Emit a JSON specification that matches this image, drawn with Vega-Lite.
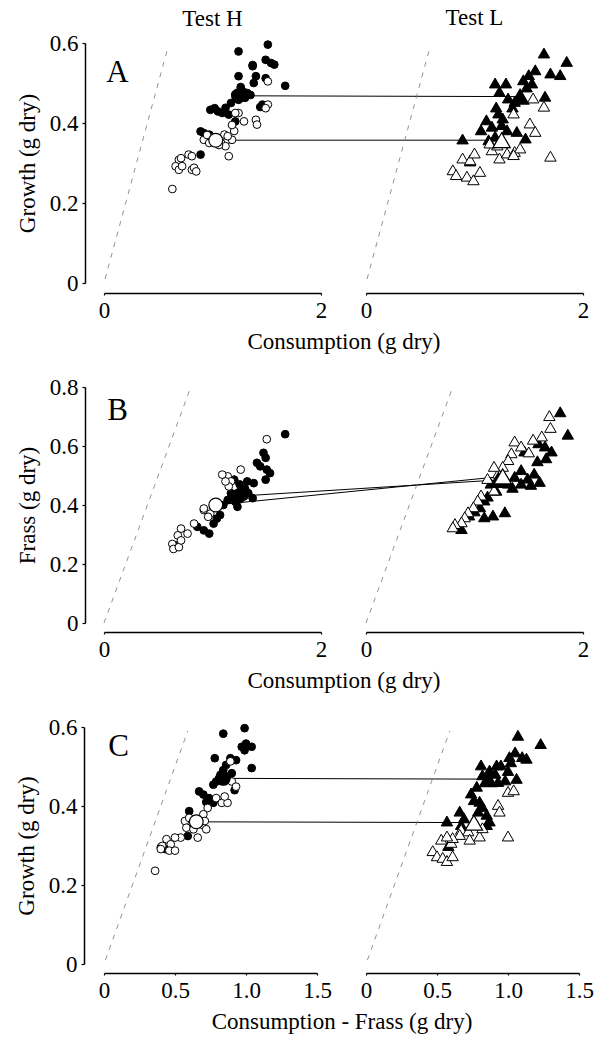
{
"$schema":"https://vega.github.io/schema/vega-lite/v6.json",
"background":"white",
"padding":{"left":15,"top":7,"right":5,"bottom":5},
"config":{
 "font":"Liberation Serif",
 "view":{"stroke":null},
 "axis":{"labelFont":"Liberation Serif","titleFont":"Liberation Serif","labelFontSize":23,"titleFontSize":23,"titleFontWeight":"normal","labelColor":"black","titleColor":"black","domainColor":"black","tickColor":"black","grid":false,"domainWidth":1.5,"tickWidth":1.2,"labelFlush":false,"labelOverlap":false},
 "title":{"font":"Liberation Serif","fontSize":23,"fontWeight":"normal","color":"black","anchor":"middle","frame":"group"}
},
"datasets":{
 "A_H":[
  {"x":1.24,"y":0.579,"g":"closed"},{"x":1.51,"y":0.596,"g":"closed"},{"x":1.49,"y":0.558,"g":"closed"},{"x":1.54,"y":0.55,"g":"closed"},{"x":1.57,"y":0.546,"g":"closed"},{"x":1.37,"y":0.542,"g":"closed"},{"x":1.24,"y":0.517,"g":"closed"},{"x":1.40,"y":0.517,"g":"closed"},{"x":1.38,"y":0.50,"g":"closed"},{"x":1.67,"y":0.493,"g":"closed"},{"x":1.21,"y":0.471,"g":"closed"},{"x":1.28,"y":0.479,"g":"closed"},{"x":1.32,"y":0.475,"g":"closed"},{"x":1.17,"y":0.45,"g":"closed"},{"x":1.24,"y":0.458,"g":"closed"},{"x":1.30,"y":0.463,"g":"closed"},{"x":1.35,"y":0.47,"g":"closed"},{"x":1.46,"y":0.446,"g":"closed"},{"x":0.98,"y":0.433,"g":"closed"},{"x":1.05,"y":0.429,"g":"closed"},{"x":1.09,"y":0.425,"g":"closed"},{"x":1.15,"y":0.421,"g":"closed"},{"x":1.02,"y":0.437,"g":"closed"},{"x":1.21,"y":0.404,"g":"closed"},{"x":0.89,"y":0.379,"g":"closed"},{"x":0.92,"y":0.375,"g":"closed"},{"x":0.97,"y":0.371,"g":"closed"},{"x":0.89,"y":0.321,"g":"closed"},{"x":1.12,"y":0.438,"g":"closed"},{"x":1.26,"y":0.49,"g":"closed"},{"x":1.44,"y":0.44,"g":"closed"},{"x":1.49,"y":0.512,"g":"closed"},{"x":1.37,"y":0.545,"g":"closed"},
  {"x":1.51,"y":0.504,"g":"open"},{"x":1.51,"y":0.446,"g":"open"},{"x":1.24,"y":0.425,"g":"open"},{"x":1.29,"y":0.404,"g":"open"},{"x":1.40,"y":0.408,"g":"open"},{"x":1.41,"y":0.396,"g":"open"},{"x":0.92,"y":0.358,"g":"open"},{"x":0.97,"y":0.35,"g":"open"},{"x":1.11,"y":0.371,"g":"open"},{"x":1.14,"y":0.358,"g":"open"},{"x":1.12,"y":0.342,"g":"open"},{"x":1.18,"y":0.358,"g":"open"},{"x":1.15,"y":0.317,"g":"open"},{"x":0.78,"y":0.321,"g":"open"},{"x":0.81,"y":0.317,"g":"open"},{"x":0.69,"y":0.308,"g":"open"},{"x":0.71,"y":0.312,"g":"open"},{"x":0.66,"y":0.292,"g":"open"},{"x":0.69,"y":0.283,"g":"open"},{"x":0.72,"y":0.292,"g":"open"},{"x":0.81,"y":0.283,"g":"open"},{"x":0.83,"y":0.288,"g":"open"},{"x":0.63,"y":0.235,"g":"open"},{"x":1.0,"y":0.365,"g":"open"},{"x":1.06,"y":0.345,"g":"open"},{"x":0.95,"y":0.37,"g":"open"},{"x":1.20,"y":0.38,"g":"open"},{"x":1.18,"y":0.395,"g":"open"},{"x":1.49,"y":0.437,"g":"open"},{"x":1.14,"y":0.367,"g":"open"},{"x":0.85,"y":0.279,"g":"open"},{"x":1.21,"y":0.425,"g":"open"}
 ],
 "A_H_mean":[{"x":1.24,"y":0.468,"g":"closed"},{"x":1.03,"y":0.357,"g":"open"}],
 "A_L":[
  {"x":1.64,"y":0.575,"g":"closed"},{"x":1.85,"y":0.554,"g":"closed"},{"x":1.70,"y":0.525,"g":"closed"},{"x":1.79,"y":0.521,"g":"closed"},{"x":1.56,"y":0.533,"g":"closed"},{"x":1.50,"y":0.521,"g":"closed"},{"x":1.45,"y":0.508,"g":"closed"},{"x":1.19,"y":0.5,"g":"closed"},{"x":1.29,"y":0.5,"g":"closed"},{"x":1.23,"y":0.479,"g":"closed"},{"x":1.31,"y":0.4625,"g":"closed"},{"x":1.37,"y":0.454,"g":"closed"},{"x":1.42,"y":0.467,"g":"closed"},{"x":1.65,"y":0.467,"g":"closed"},{"x":1.22,"y":0.425,"g":"closed"},{"x":1.26,"y":0.4125,"g":"closed"},{"x":1.11,"y":0.408,"g":"closed"},{"x":1.06,"y":0.383,"g":"closed"},{"x":1.16,"y":0.392,"g":"closed"},{"x":1.25,"y":0.396,"g":"closed"},{"x":1.30,"y":0.383,"g":"closed"},{"x":1.39,"y":0.379,"g":"closed"},{"x":1.47,"y":0.3625,"g":"closed"},{"x":0.89,"y":0.36,"g":"closed"},{"x":1.13,"y":0.358,"g":"closed"},{"x":1.19,"y":0.367,"g":"closed"},{"x":0.96,"y":0.305,"g":"closed"},{"x":1.48,"y":0.49,"g":"closed"},{"x":1.53,"y":0.5,"g":"closed"},{"x":1.35,"y":0.44,"g":"closed"},{"x":1.20,"y":0.44,"g":"closed"},
  {"x":1.54,"y":0.4625,"g":"open"},{"x":1.64,"y":0.442,"g":"open"},{"x":1.36,"y":0.425,"g":"open"},{"x":1.51,"y":0.40,"g":"open"},{"x":1.56,"y":0.379,"g":"open"},{"x":1.16,"y":0.333,"g":"open"},{"x":1.23,"y":0.3125,"g":"open"},{"x":1.30,"y":0.325,"g":"open"},{"x":1.37,"y":0.329,"g":"open"},{"x":1.42,"y":0.3375,"g":"open"},{"x":1.36,"y":0.321,"g":"open"},{"x":1.70,"y":0.317,"g":"open"},{"x":0.89,"y":0.3125,"g":"open"},{"x":0.96,"y":0.308,"g":"open"},{"x":1.0,"y":0.325,"g":"open"},{"x":0.80,"y":0.283,"g":"open"},{"x":0.83,"y":0.271,"g":"open"},{"x":0.93,"y":0.267,"g":"open"},{"x":0.99,"y":0.258,"g":"open"},{"x":1.05,"y":0.279,"g":"open"},{"x":1.21,"y":0.345,"g":"open"},{"x":1.14,"y":0.35,"g":"open"}
 ],
 "A_L_mean":[{"x":1.42,"y":0.466,"g":"closed"},{"x":1.25,"y":0.357,"g":"open"}],
 "A_link":[{"x_from":1.24,"y_from":0.468,"x_to":3.835,"y_to":0.466},{"x_from":1.03,"y_from":0.357,"x_to":3.665,"y_to":0.357}],
 "A_diag":[{"x0":0.01,"y0":0.01,"x1":0.585,"y1":0.585}],
 "A_lab":[{"x":0.02,"y":0.525,"label":"A"}],
 "B_H":[
  {"x":1.67,"y":0.64,"g":"closed"},{"x":1.47,"y":0.577,"g":"closed"},{"x":1.49,"y":0.56,"g":"closed"},{"x":1.41,"y":0.543,"g":"closed"},{"x":1.44,"y":0.531,"g":"closed"},{"x":1.50,"y":0.52,"g":"closed"},{"x":1.53,"y":0.508,"g":"closed"},{"x":1.49,"y":0.486,"g":"closed"},{"x":1.20,"y":0.486,"g":"closed"},{"x":1.32,"y":0.48,"g":"closed"},{"x":1.38,"y":0.474,"g":"closed"},{"x":1.26,"y":0.451,"g":"closed"},{"x":1.17,"y":0.44,"g":"closed"},{"x":1.29,"y":0.429,"g":"closed"},{"x":1.21,"y":0.411,"g":"closed"},{"x":1.23,"y":0.394,"g":"closed"},{"x":1.14,"y":0.417,"g":"closed"},{"x":1.37,"y":0.423,"g":"closed"},{"x":1.04,"y":0.354,"g":"closed"},{"x":1.01,"y":0.337,"g":"closed"},{"x":1.07,"y":0.366,"g":"closed"},{"x":0.86,"y":0.326,"g":"closed"},{"x":0.92,"y":0.314,"g":"closed"},{"x":0.97,"y":0.303,"g":"closed"},{"x":0.68,"y":0.263,"g":"closed"},{"x":1.25,"y":0.47,"g":"closed"},{"x":1.30,"y":0.455,"g":"closed"},{"x":1.18,"y":0.43,"g":"closed"},{"x":1.33,"y":0.44,"g":"closed"},{"x":1.10,"y":0.40,"g":"closed"},
  {"x":1.50,"y":0.623,"g":"open"},{"x":1.26,"y":0.52,"g":"open"},{"x":1.14,"y":0.497,"g":"open"},{"x":1.17,"y":0.48,"g":"open"},{"x":1.15,"y":0.463,"g":"open"},{"x":0.92,"y":0.383,"g":"open"},{"x":0.98,"y":0.371,"g":"open"},{"x":0.83,"y":0.337,"g":"open"},{"x":0.77,"y":0.303,"g":"open"},{"x":0.71,"y":0.32,"g":"open"},{"x":0.68,"y":0.297,"g":"open"},{"x":0.63,"y":0.268,"g":"open"},{"x":0.64,"y":0.251,"g":"open"},{"x":0.69,"y":0.257,"g":"open"},{"x":0.71,"y":0.28,"g":"open"},{"x":0.92,"y":0.388,"g":"open"},{"x":1.09,"y":0.503,"g":"open"},{"x":1.12,"y":0.48,"g":"open"},{"x":0.96,"y":0.36,"g":"open"}
 ],
 "B_H_mean":[{"x":1.24,"y":0.43,"g":"closed"},{"x":1.03,"y":0.40,"g":"open"}],
 "B_L":[
  {"x":1.79,"y":0.716,"g":"closed"},{"x":1.86,"y":0.64,"g":"closed"},{"x":1.59,"y":0.611,"g":"closed"},{"x":1.65,"y":0.60,"g":"closed"},{"x":1.71,"y":0.583,"g":"closed"},{"x":1.46,"y":0.583,"g":"closed"},{"x":1.43,"y":0.52,"g":"closed"},{"x":1.55,"y":0.508,"g":"closed"},{"x":1.60,"y":0.48,"g":"closed"},{"x":1.49,"y":0.491,"g":"closed"},{"x":1.37,"y":0.497,"g":"closed"},{"x":1.31,"y":0.474,"g":"closed"},{"x":1.25,"y":0.486,"g":"closed"},{"x":1.43,"y":0.474,"g":"closed"},{"x":1.15,"y":0.474,"g":"closed"},{"x":1.09,"y":0.417,"g":"closed"},{"x":1.05,"y":0.394,"g":"closed"},{"x":1.09,"y":0.36,"g":"closed"},{"x":1.17,"y":0.366,"g":"closed"},{"x":1.28,"y":0.377,"g":"closed"},{"x":0.88,"y":0.32,"g":"closed"},{"x":0.95,"y":0.366,"g":"closed"},{"x":1.2,"y":0.45,"g":"closed"},{"x":1.35,"y":0.46,"g":"closed"},{"x":1.52,"y":0.47,"g":"closed"},{"x":1.12,"y":0.43,"g":"closed"},{"x":1.0,"y":0.38,"g":"closed"},{"x":1.58,"y":0.55,"g":"closed"},{"x":1.66,"y":0.56,"g":"closed"},
  {"x":1.69,"y":0.703,"g":"open"},{"x":1.70,"y":0.663,"g":"open"},{"x":1.62,"y":0.634,"g":"open"},{"x":1.54,"y":0.623,"g":"open"},{"x":1.37,"y":0.617,"g":"open"},{"x":1.43,"y":0.60,"g":"open"},{"x":1.34,"y":0.577,"g":"open"},{"x":1.31,"y":0.554,"g":"open"},{"x":1.26,"y":0.531,"g":"open"},{"x":1.22,"y":0.508,"g":"open"},{"x":1.18,"y":0.531,"g":"open"},{"x":1.18,"y":0.451,"g":"open"},{"x":1.06,"y":0.434,"g":"open"},{"x":1.03,"y":0.417,"g":"open"},{"x":0.99,"y":0.394,"g":"open"},{"x":0.94,"y":0.377,"g":"open"},{"x":0.91,"y":0.36,"g":"open"},{"x":0.88,"y":0.343,"g":"open"},{"x":0.82,"y":0.337,"g":"open"},{"x":0.80,"y":0.326,"g":"open"},{"x":1.5,"y":0.58,"g":"open"},{"x":1.12,"y":0.49,"g":"open"}
 ],
 "B_L_mean":[{"x":1.22,"y":0.485,"g":"closed"},{"x":1.26,"y":0.497,"g":"open"}],
 "B_link":[{"x_from":1.24,"y_from":0.43,"x_to":3.635,"y_to":0.485},{"x_from":1.03,"y_from":0.40,"x_to":3.675,"y_to":0.497}],
 "B_diag":[{"x0":0,"y0":0,"x1":0.79,"y1":0.79}],
 "B_lab":[{"x":0.03,"y":0.72,"label":"B"}],
 "C_H":[
  {"x":0.99,"y":0.597,"g":"closed"},{"x":0.84,"y":0.583,"g":"closed"},{"x":0.97,"y":0.55,"g":"closed"},{"x":1.0,"y":0.558,"g":"closed"},{"x":1.04,"y":0.55,"g":"closed"},{"x":0.99,"y":0.541,"g":"closed"},{"x":0.78,"y":0.521,"g":"closed"},{"x":1.04,"y":0.496,"g":"closed"},{"x":0.89,"y":0.521,"g":"closed"},{"x":0.93,"y":0.516,"g":"closed"},{"x":0.86,"y":0.504,"g":"closed"},{"x":0.84,"y":0.491,"g":"closed"},{"x":0.82,"y":0.479,"g":"closed"},{"x":0.79,"y":0.462,"g":"closed"},{"x":0.77,"y":0.454,"g":"closed"},{"x":0.90,"y":0.483,"g":"closed"},{"x":0.84,"y":0.466,"g":"closed"},{"x":0.67,"y":0.437,"g":"closed"},{"x":0.70,"y":0.429,"g":"closed"},{"x":0.74,"y":0.42,"g":"closed"},{"x":0.77,"y":0.408,"g":"closed"},{"x":0.60,"y":0.387,"g":"closed"},{"x":0.59,"y":0.324,"g":"closed"},{"x":0.40,"y":0.295,"g":"closed"},{"x":0.43,"y":0.291,"g":"closed"},{"x":0.88,"y":0.47,"g":"closed"},{"x":0.81,"y":0.47,"g":"closed"},{"x":0.92,"y":0.44,"g":"closed"},{"x":0.72,"y":0.41,"g":"closed"},
  {"x":0.89,"y":0.513,"g":"open"},{"x":0.90,"y":0.462,"g":"open"},{"x":0.93,"y":0.449,"g":"open"},{"x":0.79,"y":0.42,"g":"open"},{"x":0.83,"y":0.408,"g":"open"},{"x":0.87,"y":0.408,"g":"open"},{"x":0.85,"y":0.424,"g":"open"},{"x":0.73,"y":0.395,"g":"open"},{"x":0.70,"y":0.379,"g":"open"},{"x":0.57,"y":0.362,"g":"open"},{"x":0.58,"y":0.345,"g":"open"},{"x":0.63,"y":0.341,"g":"open"},{"x":0.69,"y":0.353,"g":"open"},{"x":0.72,"y":0.341,"g":"open"},{"x":0.71,"y":0.362,"g":"open"},{"x":0.54,"y":0.32,"g":"open"},{"x":0.50,"y":0.32,"g":"open"},{"x":0.44,"y":0.316,"g":"open"},{"x":0.47,"y":0.303,"g":"open"},{"x":0.41,"y":0.299,"g":"open"},{"x":0.46,"y":0.287,"g":"open"},{"x":0.50,"y":0.287,"g":"open"},{"x":0.40,"y":0.291,"g":"open"},{"x":0.36,"y":0.236,"g":"open"},{"x":0.66,"y":0.32,"g":"open"},{"x":0.60,"y":0.37,"g":"open"}
 ],
 "C_H_mean":[{"x":0.84,"y":0.47,"g":"closed"},{"x":0.65,"y":0.36,"g":"open"}],
 "C_L":[
  {"x":1.07,"y":0.579,"g":"closed"},{"x":1.23,"y":0.558,"g":"closed"},{"x":1.05,"y":0.537,"g":"closed"},{"x":1.01,"y":0.525,"g":"closed"},{"x":1.10,"y":0.525,"g":"closed"},{"x":1.13,"y":0.521,"g":"closed"},{"x":1.02,"y":0.512,"g":"closed"},{"x":0.81,"y":0.504,"g":"closed"},{"x":0.92,"y":0.504,"g":"closed"},{"x":0.95,"y":0.504,"g":"closed"},{"x":0.87,"y":0.491,"g":"closed"},{"x":0.91,"y":0.483,"g":"closed"},{"x":0.82,"y":0.479,"g":"closed"},{"x":0.85,"y":0.462,"g":"closed"},{"x":0.93,"y":0.462,"g":"closed"},{"x":0.98,"y":0.466,"g":"closed"},{"x":1.06,"y":0.47,"g":"closed"},{"x":0.74,"y":0.433,"g":"closed"},{"x":0.76,"y":0.416,"g":"closed"},{"x":0.80,"y":0.412,"g":"closed"},{"x":0.82,"y":0.399,"g":"closed"},{"x":0.79,"y":0.387,"g":"closed"},{"x":0.85,"y":0.379,"g":"closed"},{"x":0.87,"y":0.362,"g":"closed"},{"x":0.85,"y":0.353,"g":"closed"},{"x":0.66,"y":0.387,"g":"closed"},{"x":0.69,"y":0.37,"g":"closed"},{"x":0.67,"y":0.353,"g":"closed"},{"x":0.57,"y":0.362,"g":"closed"},{"x":0.58,"y":0.30,"g":"closed"},{"x":0.78,"y":0.45,"g":"closed"},{"x":1.0,"y":0.49,"g":"closed"},
  {"x":1.0,"y":0.437,"g":"open"},{"x":1.04,"y":0.441,"g":"open"},{"x":0.93,"y":0.404,"g":"open"},{"x":0.94,"y":0.387,"g":"open"},{"x":0.67,"y":0.341,"g":"open"},{"x":0.72,"y":0.337,"g":"open"},{"x":0.80,"y":0.324,"g":"open"},{"x":0.82,"y":0.345,"g":"open"},{"x":0.73,"y":0.316,"g":"open"},{"x":0.66,"y":0.328,"g":"open"},{"x":0.53,"y":0.316,"g":"open"},{"x":0.60,"y":0.308,"g":"open"},{"x":0.61,"y":0.32,"g":"open"},{"x":0.57,"y":0.324,"g":"open"},{"x":1.0,"y":0.324,"g":"open"},{"x":0.47,"y":0.287,"g":"open"},{"x":0.50,"y":0.274,"g":"open"},{"x":0.54,"y":0.27,"g":"open"},{"x":0.57,"y":0.262,"g":"open"},{"x":0.61,"y":0.274,"g":"open"}
 ],
 "C_L_mean":[{"x":0.86,"y":0.468,"g":"closed"},{"x":0.76,"y":0.358,"g":"open"}],
 "C_link":[{"x_from":0.84,"y_from":0.47,"x_to":2.705,"y_to":0.468},{"x_from":0.65,"y_from":0.36,"x_to":2.605,"y_to":0.358}],
 "C_diag":[{"x0":0.01,"y0":0.01,"x1":0.59,"y1":0.59}],
 "C_lab":[{"x":0.03,"y":0.55,"label":"C"}]
},
"columns":2,
"bounds":"flush",
"spacing":{"row":104,"column":45},
"concat":[
 {"width":217,"height":240,"title":{"text":"Test H","offset":1},
  "layer":[
   {"data":{"name":"A_diag"},"mark":{"type":"rule","stroke":"#777777","strokeWidth":0.8,"strokeDash":[5,6]},
    "encoding":{"x":{"field":"x0","type":"quantitative","scale":{"domain":[0,2],"nice":false,"zero":false},"axis":{"values":[0,1,2],"format":"d","offset":10,"tickSize":2,"labelPadding":4,"title":"Consumption (g dry)","titleX":239.5,"titlePadding":8}},
     "y":{"field":"y0","type":"quantitative","scale":{"domain":[0,0.6],"nice":false},"axis":{"values":[0,0.2,0.4,0.6],"labelExpr":"datum.value == 0 ? '0' : format(datum.value, '.1f')","offset":19,"tickSize":3,"labelPadding":4,"title":"Growth (g dry)","titlePadding":10}},
     "x2":{"field":"x1"},"y2":{"field":"y1"}}},
   {"data":{"name":"A_link"},"mark":{"type":"rule","stroke":"black","strokeWidth":1,"clip":false},
    "encoding":{"x":{"field":"x_from","type":"quantitative"},"y":{"field":"y_from","type":"quantitative"},"x2":{"field":"x_to"},"y2":{"field":"y_to"}}},
   {"data":{"name":"A_H"},"mark":{"type":"point","shape":"circle","size":60,"filled":true,"stroke":"black","strokeWidth":1,"opacity":1},
    "encoding":{"x":{"field":"x","type":"quantitative"},"y":{"field":"y","type":"quantitative"},"fill":{"field":"g","type":"nominal","scale":{"domain":["closed","open"],"range":["black","white"]},"legend":null}}},
   {"data":{"name":"A_H_mean"},"mark":{"type":"point","shape":"circle","size":190,"filled":true,"stroke":"black","strokeWidth":1.2,"opacity":1},
    "encoding":{"x":{"field":"x","type":"quantitative"},"y":{"field":"y","type":"quantitative"},"fill":{"field":"g","type":"nominal","legend":null}}},
   {"data":{"name":"A_lab"},"mark":{"type":"text","font":"Liberation Serif","fontSize":31,"align":"left","baseline":"middle","color":"black"},
    "encoding":{"x":{"field":"x","type":"quantitative"},"y":{"field":"y","type":"quantitative"},"text":{"field":"label"}}}
  ]},
 {"width":217,"height":240,"title":{"text":"Test L","offset":13},
  "layer":[
   {"data":{"name":"A_diag"},"mark":{"type":"rule","stroke":"#777777","strokeWidth":0.8,"strokeDash":[5,6]},
    "encoding":{"x":{"field":"x0","type":"quantitative","scale":{"domain":[0,2],"nice":false,"zero":false},"axis":{"values":[0,1,2],"format":"d","offset":10,"tickSize":2,"labelPadding":4,"title":null}},
     "y":{"field":"y0","type":"quantitative","scale":{"domain":[0,0.6],"nice":false},"axis":null},
     "x2":{"field":"x1"},"y2":{"field":"y1"}}},
   {"data":{"name":"A_L"},"mark":{"type":"point","shape":"triangle-up","size":130,"filled":true,"stroke":"black","strokeWidth":1,"opacity":1},
    "encoding":{"x":{"field":"x","type":"quantitative"},"y":{"field":"y","type":"quantitative"},"fill":{"field":"g","type":"nominal","legend":null}}},
   {"data":{"name":"A_L_mean"},"mark":{"type":"point","shape":"triangle-up","size":300,"filled":true,"stroke":"black","strokeWidth":1.2,"opacity":1},
    "encoding":{"x":{"field":"x","type":"quantitative"},"y":{"field":"y","type":"quantitative"},"fill":{"field":"g","type":"nominal","legend":null}}}
  ]},
 {"width":217,"height":236,
  "layer":[
   {"data":{"name":"B_diag"},"mark":{"type":"rule","stroke":"#777777","strokeWidth":0.8,"strokeDash":[5,6]},
    "encoding":{"x":{"field":"x0","type":"quantitative","scale":{"domain":[0,2],"nice":false,"zero":false},"axis":{"values":[0,1,2],"format":"d","offset":9,"tickSize":2,"labelPadding":4,"title":"Consumption (g dry)","titleX":239.5,"titlePadding":8}},
     "y":{"field":"y0","type":"quantitative","scale":{"domain":[0,0.8],"nice":false},"axis":{"values":[0,0.2,0.4,0.6,0.8],"labelExpr":"datum.value == 0 ? '0' : format(datum.value, '.1f')","offset":19,"tickSize":3,"labelPadding":4,"title":"Frass (g dry)","titlePadding":10}},
     "x2":{"field":"x1"},"y2":{"field":"y1"}}},
   {"data":{"name":"B_link"},"mark":{"type":"rule","stroke":"black","strokeWidth":1,"clip":false},
    "encoding":{"x":{"field":"x_from","type":"quantitative"},"y":{"field":"y_from","type":"quantitative"},"x2":{"field":"x_to"},"y2":{"field":"y_to"}}},
   {"data":{"name":"B_H"},"mark":{"type":"point","shape":"circle","size":60,"filled":true,"stroke":"black","strokeWidth":1,"opacity":1},
    "encoding":{"x":{"field":"x","type":"quantitative"},"y":{"field":"y","type":"quantitative"},"fill":{"field":"g","type":"nominal","legend":null}}},
   {"data":{"name":"B_H_mean"},"mark":{"type":"point","shape":"circle","size":190,"filled":true,"stroke":"black","strokeWidth":1.2,"opacity":1},
    "encoding":{"x":{"field":"x","type":"quantitative"},"y":{"field":"y","type":"quantitative"},"fill":{"field":"g","type":"nominal","legend":null}}},
   {"data":{"name":"B_lab"},"mark":{"type":"text","font":"Liberation Serif","fontSize":31,"align":"left","baseline":"middle","color":"black"},
    "encoding":{"x":{"field":"x","type":"quantitative"},"y":{"field":"y","type":"quantitative"},"text":{"field":"label"}}}
  ]},
 {"width":217,"height":236,
  "layer":[
   {"data":{"name":"B_diag"},"mark":{"type":"rule","stroke":"#777777","strokeWidth":0.8,"strokeDash":[5,6]},
    "encoding":{"x":{"field":"x0","type":"quantitative","scale":{"domain":[0,2],"nice":false,"zero":false},"axis":{"values":[0,1,2],"format":"d","offset":9,"tickSize":2,"labelPadding":4,"title":null}},
     "y":{"field":"y0","type":"quantitative","scale":{"domain":[0,0.8],"nice":false},"axis":null},
     "x2":{"field":"x1"},"y2":{"field":"y1"}}},
   {"data":{"name":"B_L"},"mark":{"type":"point","shape":"triangle-up","size":130,"filled":true,"stroke":"black","strokeWidth":1,"opacity":1},
    "encoding":{"x":{"field":"x","type":"quantitative"},"y":{"field":"y","type":"quantitative"},"fill":{"field":"g","type":"nominal","legend":null}}},
   {"data":{"name":"B_L_mean"},"mark":{"type":"point","shape":"triangle-up","size":300,"filled":true,"stroke":"black","strokeWidth":1.2,"opacity":1},
    "encoding":{"x":{"field":"x","type":"quantitative"},"y":{"field":"y","type":"quantitative"},"fill":{"field":"g","type":"nominal","legend":null}}}
  ]},
 {"width":213,"height":237,
  "layer":[
   {"data":{"name":"C_diag"},"mark":{"type":"rule","stroke":"#777777","strokeWidth":0.8,"strokeDash":[5,6]},
    "encoding":{"x":{"field":"x0","type":"quantitative","scale":{"domain":[0,1.5],"nice":false,"zero":false},"axis":{"values":[0,0.5,1,1.5],"labelExpr":"datum.value == 0 ? '0' : format(datum.value, '.1f')","offset":9,"tickSize":2,"labelPadding":4,"title":"Consumption - Frass (g dry)","titleX":237.5,"titlePadding":8}},
     "y":{"field":"y0","type":"quantitative","scale":{"domain":[0,0.6],"nice":false},"axis":{"values":[0,0.2,0.4,0.6],"labelExpr":"datum.value == 0 ? '0' : format(datum.value, '.1f')","offset":20,"tickSize":3,"labelPadding":4,"title":"Growth (g dry)","titlePadding":10}},
     "x2":{"field":"x1"},"y2":{"field":"y1"}}},
   {"data":{"name":"C_link"},"mark":{"type":"rule","stroke":"black","strokeWidth":1,"clip":false},
    "encoding":{"x":{"field":"x_from","type":"quantitative"},"y":{"field":"y_from","type":"quantitative"},"x2":{"field":"x_to"},"y2":{"field":"y_to"}}},
   {"data":{"name":"C_H"},"mark":{"type":"point","shape":"circle","size":60,"filled":true,"stroke":"black","strokeWidth":1,"opacity":1},
    "encoding":{"x":{"field":"x","type":"quantitative"},"y":{"field":"y","type":"quantitative"},"fill":{"field":"g","type":"nominal","legend":null}}},
   {"data":{"name":"C_H_mean"},"mark":{"type":"point","shape":"circle","size":190,"filled":true,"stroke":"black","strokeWidth":1.2,"opacity":1},
    "encoding":{"x":{"field":"x","type":"quantitative"},"y":{"field":"y","type":"quantitative"},"fill":{"field":"g","type":"nominal","legend":null}}},
   {"data":{"name":"C_lab"},"mark":{"type":"text","font":"Liberation Serif","fontSize":31,"align":"left","baseline":"middle","color":"black"},
    "encoding":{"x":{"field":"x","type":"quantitative"},"y":{"field":"y","type":"quantitative"},"text":{"field":"label"}}}
  ]},
 {"width":213,"height":237,
  "layer":[
   {"data":{"name":"C_diag"},"mark":{"type":"rule","stroke":"#777777","strokeWidth":0.8,"strokeDash":[5,6]},
    "encoding":{"x":{"field":"x0","type":"quantitative","scale":{"domain":[0,1.5],"nice":false,"zero":false},"axis":{"values":[0,0.5,1,1.5],"labelExpr":"datum.value == 0 ? '0' : format(datum.value, '.1f')","offset":9,"tickSize":2,"labelPadding":4,"title":null}},
     "y":{"field":"y0","type":"quantitative","scale":{"domain":[0,0.6],"nice":false},"axis":null},
     "x2":{"field":"x1"},"y2":{"field":"y1"}}},
   {"data":{"name":"C_L"},"mark":{"type":"point","shape":"triangle-up","size":130,"filled":true,"stroke":"black","strokeWidth":1,"opacity":1},
    "encoding":{"x":{"field":"x","type":"quantitative"},"y":{"field":"y","type":"quantitative"},"fill":{"field":"g","type":"nominal","legend":null}}},
   {"data":{"name":"C_L_mean"},"mark":{"type":"point","shape":"triangle-up","size":300,"filled":true,"stroke":"black","strokeWidth":1.2,"opacity":1},
    "encoding":{"x":{"field":"x","type":"quantitative"},"y":{"field":"y","type":"quantitative"},"fill":{"field":"g","type":"nominal","legend":null}}}
  ]}
]
}
